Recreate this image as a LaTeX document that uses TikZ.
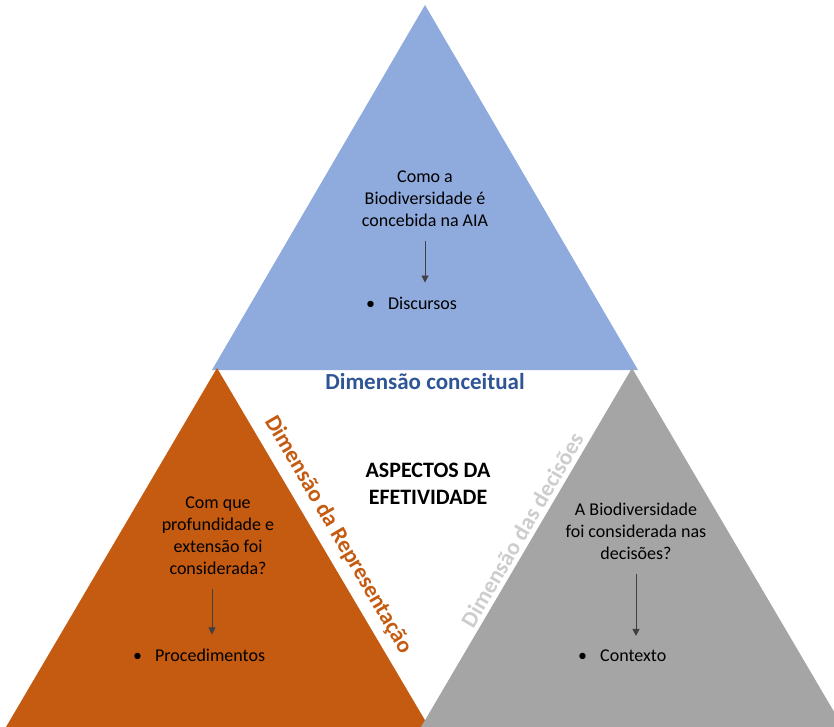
\documentclass[tikz,border=0pt]{standalone}
\usepackage{fontspec}
\setmainfont{Carlito}
\usetikzlibrary{arrows.meta}
\definecolor{topblue}{RGB}{143,170,220}
\definecolor{orng}{RGB}{197,90,17}
\definecolor{gry}{RGB}{165,165,165}
\definecolor{titleblue}{RGB}{47,85,151}
\definecolor{lightgry}{RGB}{205,205,205}
\definecolor{arrowgry}{RGB}{64,64,64}
\tikzset{
  body/.style={align=center, text=black, font=\fontsize{18}{22}\selectfont, inner sep=0pt},
  bul/.style={anchor=west, text=black, font=\fontsize{18}{22}\selectfont, inner sep=0pt},
  dimlabel/.style={font=\fontsize{23}{27}\selectfont\bfseries, inner sep=0pt},
  downarrow/.style={draw=arrowgry, line width=0.9pt, -{Triangle[length=7pt,width=7pt]}, shorten <=14pt, shorten >=14pt},
}
\begin{document}
\begin{tikzpicture}[x=1pt,y=-1pt]
\useasboundingbox (0,0) rectangle (834,727);
\clip (0,0) rectangle (834,727);
% triangles
\fill[topblue] (425,5) -- (212,370) -- (638,370) -- cycle;
\fill[orng] (217,368) -- (6,727) -- (429,727) -- cycle;
\fill[gry] (632,368) -- (421,727) -- (843,727) -- cycle;
% top triangle texts
\node[body] (q1) at (425,199) {Como a\\Biodiversidade é\\concebida na AIA};
\node[bul] (b1) at (366,303) {•\hspace{13pt}Discursos};
\draw[downarrow] (q1.south) -- (q1.south |- b1.north);
% left triangle texts
\node[body] (q2) at (218,536) {Com que\\profundidade e\\extensão foi\\considerada?};
\node[bul] (b2) at (133,655) {•\hspace{13pt}Procedimentos};
\draw[downarrow] ([xshift=-6pt]q2.south) -- ([xshift=-6pt]q2.south |- b2.north);
% right triangle texts
\node[body] (q3) at (636,531) {A Biodiversidade\\foi considerada nas\\decisões?};
\node[bul] (b3) at (578,656) {•\hspace{13pt}Contexto};
\draw[downarrow] (q3.south) -- (q3.south |- b3.north);
% labels
\node[dimlabel, text=titleblue] (dc) at (425,382) {Dimensão conceitual};
\node[dimlabel, text=orng, rotate=-59.7] (dr) at (338,535) {Dimensão da Representação};
\node[dimlabel, text=lightgry, rotate=59.7] (dd) at (522,530) {Dimensão das decisões};
\node[dimlabel, align=center, text=black, font=\fontsize{22}{27}\selectfont\bfseries] (asp) at (428,484) {ASPECTOS DA\\EFETIVIDADE};
\end{tikzpicture}
\end{document}
